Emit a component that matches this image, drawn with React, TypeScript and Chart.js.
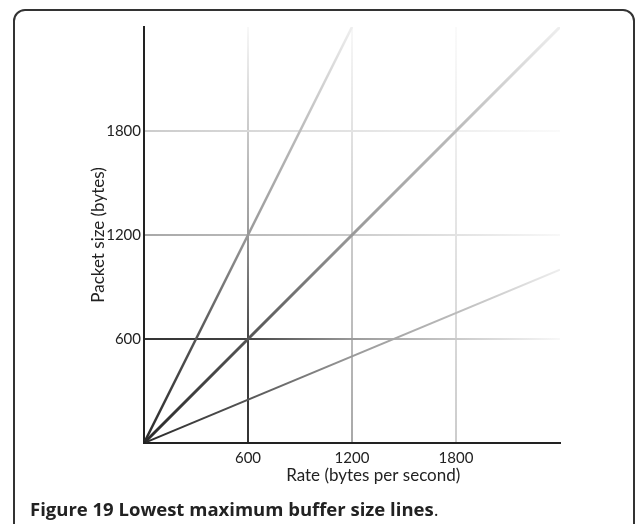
import React, { useEffect, useRef } from "react";
import { Chart, registerables } from "chart.js";
Chart.register(...registerables);

const steepRate = [0, 1200];
const steepSize = [0, 2400];
const diagRate = [0, 2400];
const diagSize = [0, 2400];
const shallowRate = [0, 2400];
const shallowSize = [0, 1000];
const tickValues = [600, 1200, 1800];
const axisMin = 0;
const axisMax = 2400;
const xTitle = "Rate (bytes per second)";
const yTitle = "Packet size (bytes)";
const captionBold = "Figure 19 Lowest maximum buffer size lines";

const toPoints = (xs: number[], ys: number[]) => xs.map((x, i) => ({ x, y: ys[i] }));

const lineStops: [number, string][] = [
  [0, "#2a2a2a"],
  [0.25, "#555555"],
  [0.5, "#999999"],
  [0.75, "#bbbbbb"],
  [1, "#eeeeee"],
];

const gridStops: Record<number, [number, string][]> = {
  600: [[0, "#333333"], [0.25, "#444444"], [0.5, "#9a9a9a"], [1, "#f8f8f8"]],
  1200: [[0, "#a8a8a8"], [0.5, "#cccccc"], [1, "#f8f8f8"]],
  1800: [[0, "#cccccc"], [0.5, "#e3e3e3"], [1, "#fafafa"]],
};

function makeGrad(chart: any, x0: number, y0: number, x1: number, y1: number, stops: [number, string][]) {
  const g = chart.ctx.createLinearGradient(x0, y0, x1, y1);
  stops.forEach(([o, c]) => g.addColorStop(o, c));
  return g;
}

function lineColor(ctx: any) {
  const chart = ctx.chart;
  const { chartArea, scales } = chart;
  if (!chartArea || !scales.x || !scales.y) return "#666";
  const pts = ctx.dataset.data;
  const a = pts[0];
  const b = pts[pts.length - 1];
  return makeGrad(
    chart,
    scales.x.getPixelForValue(a.x),
    scales.y.getPixelForValue(a.y),
    scales.x.getPixelForValue(b.x),
    scales.y.getPixelForValue(b.y),
    lineStops
  );
}

function gridColor(ctx: any) {
  const chart = ctx.chart;
  const { chartArea } = chart;
  const v = ctx.tick ? ctx.tick.value : null;
  if (!chartArea || v === null || !tickValues.includes(v)) return "rgba(0,0,0,0)";
  const stops = gridStops[v];
  if (ctx.scale.axis === "x") {
    return makeGrad(chart, 0, chartArea.bottom, 0, chartArea.top, stops);
  }
  return makeGrad(chart, chartArea.left, 0, chartArea.right, 0, stops);
}

const tickFont = { family: "Lato", size: 15 };
const titleFont = { family: "Lato", size: 17 };

export default function App() {
  const ref = useRef<HTMLCanvasElement>(null);
  useEffect(() => {
    if (!ref.current) return;
    const mk = (xs: number[], ys: number[], w: number) => ({
      data: toPoints(xs, ys),
      borderColor: lineColor,
      borderWidth: w,
      pointRadius: (c: any) => (c.dataIndex === 0 ? 2 : 0),
      pointBackgroundColor: "#222",
      pointBorderWidth: 0,
    });
    const chart = new Chart(ref.current, {
      type: "line",
      data: {
        datasets: [
          mk(shallowRate, shallowSize, 2),
          mk(steepRate, steepSize, 2.5),
          mk(diagRate, diagSize, 3),
        ],
      },
      options: {
        animation: false,
        responsive: false,
        events: [],
        layout: { padding: { left: 88, top: 27, right: 77, bottom: 38 } },
        plugins: { legend: { display: false }, tooltip: { enabled: false } },
        scales: {
          x: {
            type: "linear",
            min: axisMin,
            max: axisMax,
            afterFit: (s: any) => { s.height = 43; },
            border: { display: true, color: "#222", width: 2 },
            grid: { color: gridColor, lineWidth: 2, drawTicks: false },
            ticks: {
              stepSize: 600,
              padding: 6,
              color: "#222",
              font: tickFont,
              maxRotation: 0,
              callback: (v: any) => (tickValues.includes(v) ? String(v) : ""),
            },
            title: {
              display: true,
              text: "\u2002\u2002\u2002\u2002\u2002" + xTitle,
              color: "#222",
              font: titleFont,
              padding: 0,
            },
          },
          y: {
            type: "linear",
            min: axisMin,
            max: axisMax,
            afterFit: (s: any) => { s.width = 56; },
            border: { display: true, color: "#222", width: 2 },
            grid: { color: gridColor, lineWidth: 2, drawTicks: false },
            ticks: {
              stepSize: 600,
              padding: 3,
              color: "#222",
              font: tickFont,
              callback: (v: any) => (tickValues.includes(v) ? String(v) : ""),
            },
            title: { display: true, text: yTitle, color: "#222", font: titleFont, padding: 0 },
          },
        },
      },
    } as any);
    return () => chart.destroy();
  }, []);

  return (
    <div style={{ position: "absolute", left: 0, top: 0, width: 637, height: 524, overflow: "hidden", background: "#fff" }}>
      <div
        style={{
          position: "absolute",
          left: 13,
          top: 9,
          width: 622,
          height: 540,
          border: "2px solid #333",
          borderRadius: 12,
          boxSizing: "border-box",
        }}
      />
      <canvas ref={ref} width={637} height={524} style={{ position: "absolute", left: 0, top: 0 }} />
      <div
        style={{
          position: "absolute",
          left: 30,
          top: 497,
          fontFamily: "'Open Sans', sans-serif",
          fontSize: 18.5,
          color: "#222",
          whiteSpace: "nowrap",
          lineHeight: "24px",
        }}
      >
        <span style={{ fontWeight: 700 }}>{captionBold}</span>.
      </div>
    </div>
  );
}
